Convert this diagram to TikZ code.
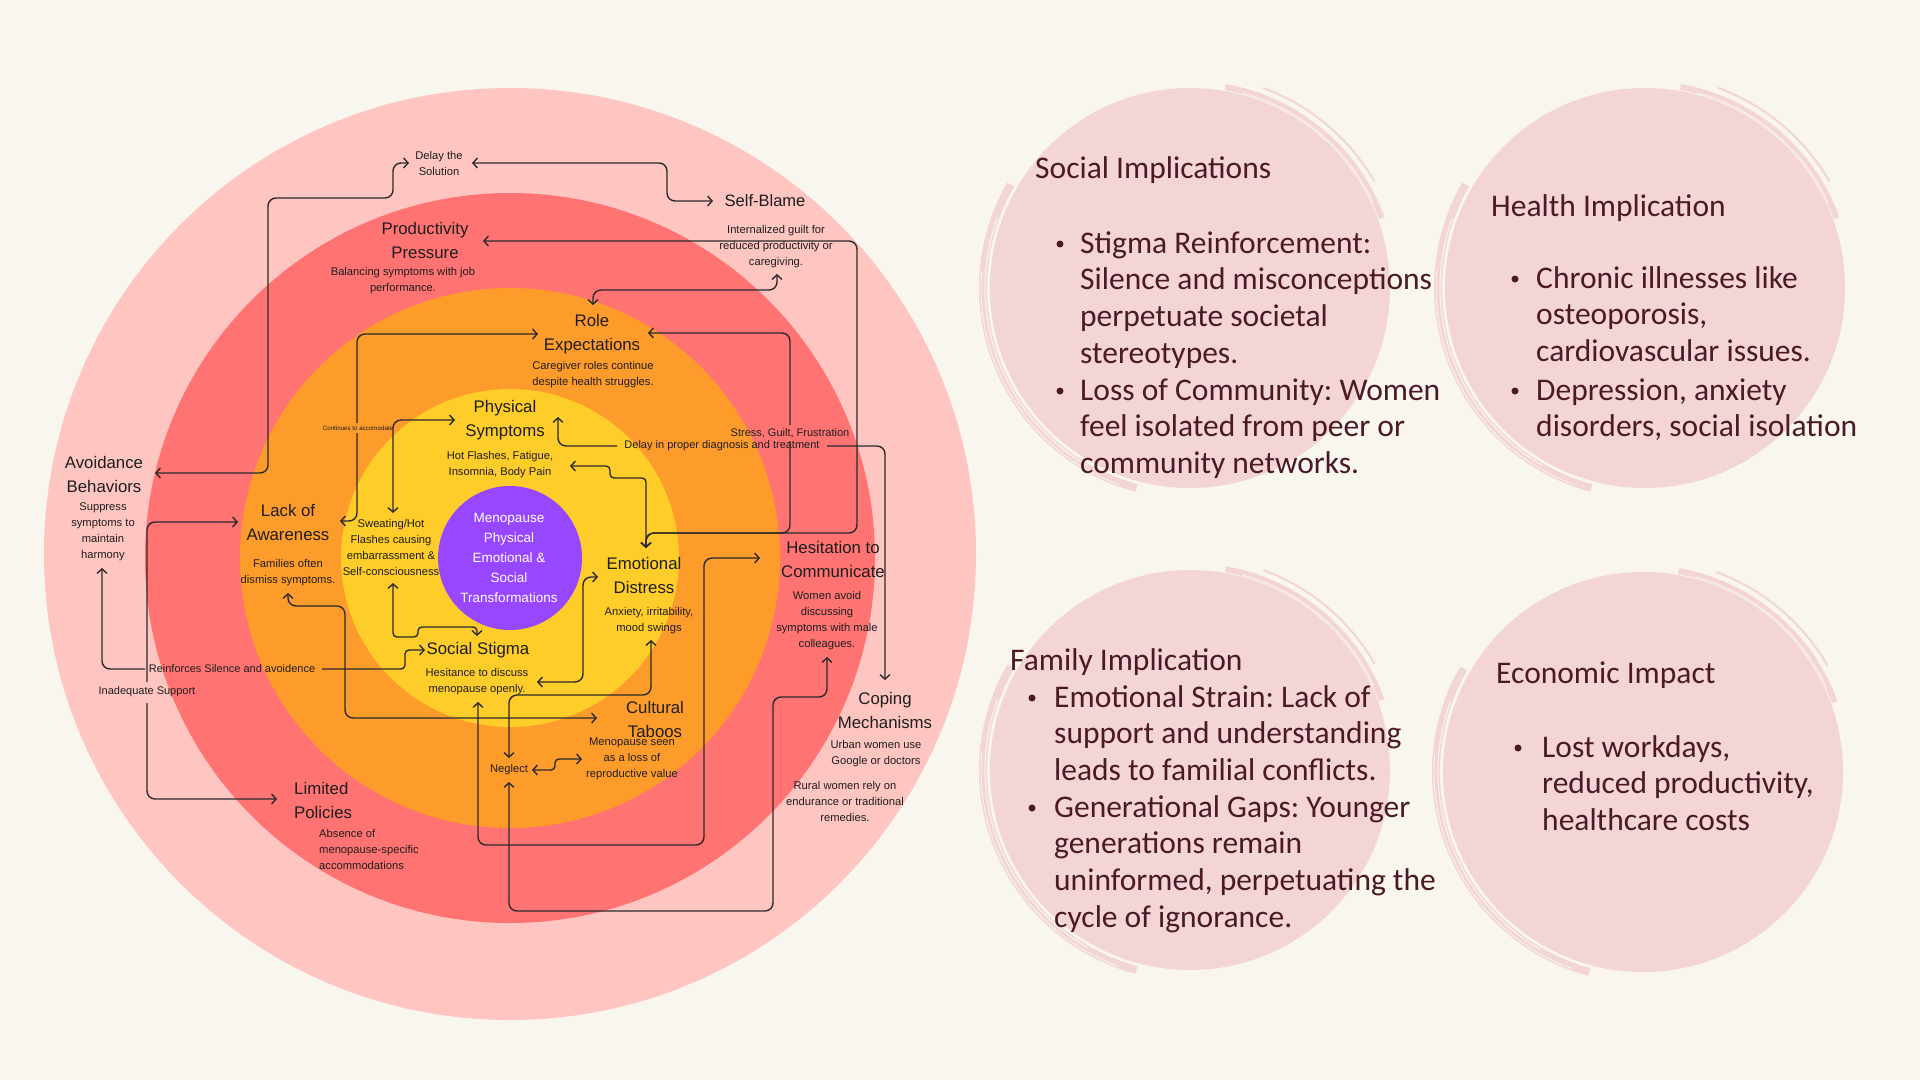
\documentclass[tikz,border=0pt]{standalone}
\usepackage{fontspec}
\setmainfont{Liberation Sans}
\newfontfamily\panelfont{Carlito}
\usetikzlibrary{arrows.meta}
\frenchspacing
\definecolor{bg}{HTML}{F9F6F0}
\definecolor{ringA}{HTML}{FFC5C1}
\definecolor{ringB}{HTML}{FF7373}
\definecolor{ringC}{HTML}{FE9C2B}
\definecolor{ringD}{HTML}{FFCD29}
\definecolor{core}{HTML}{9747FF}
\definecolor{ink}{HTML}{1E1E1E}
\definecolor{lineclr}{HTML}{2A2A2A}
\definecolor{panel}{HTML}{F3D5D7}
\definecolor{paneltext}{HTML}{4B1A25}
\newcommand{\brushdisc}[2]{%
  \fill[panel] (#1,#2) circle[radius=200pt];
  \draw[panel, line width=8pt] ([shift={(150:207pt)}]#1,#2) arc[start angle=150, end angle=255, radius=207pt];
  \draw[bg, line width=1pt] ([shift={(160:205pt)}]#1,#2) arc[start angle=160, end angle=240, radius=205pt];
  \draw[bg, line width=0.8pt] ([shift={(175:209pt)}]#1,#2) arc[start angle=175, end angle=250, radius=209pt];
  \draw[panel, line width=6pt] ([shift={(20:204pt)}]#1,#2) arc[start angle=20, end angle=80, radius=204pt];
  \draw[panel, line width=2pt] ([shift={(30:213pt)}]#1,#2) arc[start angle=30, end angle=70, radius=213pt];
  \draw[bg, line width=0.8pt] ([shift={(25:202pt)}]#1,#2) arc[start angle=25, end angle=75, radius=202pt];
}
\begin{document}
\begin{tikzpicture}[x=1pt,y=-1pt,
  ttl/.style={font=\fontsize{16.8}{24}\selectfont, text=ink, align=center, inner sep=0pt},
  sub/.style={font=\fontsize{11.2}{16}\selectfont, text=ink, align=center, inner sep=0pt},
  lbl/.style={font=\fontsize{11}{16}\selectfont, text=ink, inner sep=0pt},
  coretxt/.style={font=\fontsize{13.5}{20}\selectfont, text=white, align=center, inner sep=0pt},
  ptxt/.style={font=\panelfont\fontsize{31.5}{36.7}\selectfont, text=paneltext, inner sep=0pt, anchor=base west},
  conn/.style={draw=lineclr, line width=1.4pt, rounded corners=8pt},
  sconn/.style={draw=lineclr, line width=1.4pt, rounded corners=4pt},
  oneway/.style={-{Straight Barb[length=4.5pt,width=10pt]}},
  backway/.style={{Straight Barb[length=4.5pt,width=10pt]}-},
  twoway/.style={{Straight Barb[length=4.5pt,width=10pt]}-{Straight Barb[length=4.5pt,width=10pt]}}
]
\path[fill=bg] (0,0) rectangle (1920,1080);
\useasboundingbox (0,0) rectangle (1920,1080);

% rings
\fill[ringA] (510,554) circle[radius=466pt];
\fill[ringB] (510,558) circle[radius=365pt];
\fill[ringC] (510,558) circle[radius=270pt];
\fill[ringD] (510,558) circle[radius=169pt];
\fill[core] (510,558) circle[radius=72pt];

% panels
\brushdisc{1190}{288}
\brushdisc{1645}{288}
\brushdisc{1190}{770}
\brushdisc{1643}{772}

% diagram nodes
\node[sub] (dls) at (439,163) {Delay the\\Solution};
\node[ttl, font=\fontsize{16.5}{24}\selectfont] (sb) at (765,201) {Self-Blame};
\node[sub] (sbs) at (776,247) {Internalized guilt for\\reduced productivity or\\caregiving.};
\node[ttl] (pp) at (425,240) {Productivity\\Pressure};
\node[sub] (pps) at (403,281) {Balancing symptoms with job\\performance.};
\node[ttl] (re) at (592,334) {Role\\Expectations};
\node[sub] (res) at (593,375) {Caregiver roles continue\\despite health struggles.};
\node[ttl] (ps) at (505,420) {Physical\\Symptoms};
\node[sub] (pss) at (500,465) {Hot Flashes, Fatigue,\\Insomnia, Body Pain};
\node[coretxt] (coretext) at (509,558) {Menopause\\Physical\\Emotional \&\\Social\\Transformations};
\node[ttl] (la) at (288,522) {Lack of\\Awareness};
\node[sub] (las) at (288,573) {Families often\\dismiss symptoms.};
\node[ttl] (ab) at (104,474) {Avoidance\\Behaviors};
\node[sub] (abs) at (103,532) {Suppress\\symptoms to\\maintain\\harmony};
\node[sub] (sw) at (391,547) {Sweating/Hot\\Flashes causing\\embarrassment \&\\Self-consciousness};
\node[ttl] (ed) at (644,575) {Emotional\\Distress};
\node[sub] (eds) at (649,621) {Anxiety, irritability,\\mood swings};
\node[ttl] (hc) at (833,559) {Hesitation to\\Communicate};
\node[sub] (hcs) at (827,621) {Women avoid\\discussing\\symptoms with male\\colleagues.};
\node[ttl] (ss) at (478,650) {Social Stigma};
\node[sub] (sss) at (477,682) {Hesitance to discuss\\menopause openly.};
\node[ttl] (ct) at (655,719) {Cultural\\Taboos};
\node[sub] (cts) at (632,759) {Menopause seen\\as a loss of\\reproductive value};
\node[sub] (ng) at (509,770) {Neglect};
\node[ttl] (cm) at (885,710) {Coping\\Mechanisms};
\node[sub] (cms) at (876,754) {Urban women use\\Google or doctors};
\node[sub] (cmr) at (845,801) {Rural women rely on\\endurance or traditional\\remedies.};
\node[ttl, align=left, anchor=west] (lp) at (294,800) {Limited\\Policies};
\node[sub, align=left, anchor=west] (lps) at (319,849) {Absence of\\menopause-specific\\accommodations};

% connector labels
\node[lbl] (l1) at (790,433) {Stress, Guilt, Frustration};
\node[lbl] (l2) at (722,446) {Delay in proper diagnosis and treatment};
\node[lbl] (l3) at (232,669) {Reinforces Silence and avoidence};
\node[lbl] (l4) at (147,692) {Inadequate Support};
\node[font=\fontsize{6.2}{7}\selectfont, text=ink, inner sep=0pt] (l5) at (358,428) {Continues to accomodate};

% connector end points
\coordinate (ab-r) at (155,473);
\coordinate (dls-l) at (409,163);
\coordinate (dls-r) at (472,163);
\coordinate (sb-l) at (713,201);
\coordinate (pp-r) at (483,241);
\coordinate (ed-t) at (646,548);
\coordinate (re-r) at (648,333);
\coordinate (re-t) at (593,305);
\coordinate (sbs-b) at (777,274);
\coordinate (re-l) at (538,334);
\coordinate (la-r) at (340,521);
\coordinate (ps-l) at (455,420);
\coordinate (sw-t) at (393,513);
\coordinate (ps-r) at (570,466);
\coordinate (ps-t) at (558,417);
\coordinate (cm-t) at (885,680);
\coordinate (sw-b) at (393,583);
\coordinate (ss-t) at (477,636);
\coordinate (ab-b) at (102,568);
\coordinate (ss-l) at (425,650);
\coordinate (la-l) at (238,522);
\coordinate (lp-l) at (277,799);
\coordinate (las-b) at (288,593);
\coordinate (ct-l) at (597,718);
\coordinate (ss-r) at (537,682);
\coordinate (ed-l) at (598,577);
\coordinate (eds-b) at (651,640);
\coordinate (ng-t) at (509,758);
\coordinate (ng-r) at (532,770);
\coordinate (cts-l) at (582,759);
\coordinate (sss-b) at (478,702);
\coordinate (hc-l) at (760,558);
\coordinate (ng-b) at (509,782);
\coordinate (hcs-b) at (827,657);

% connectors
\draw[conn,twoway] (ab-r) -- (268,473) -- (268,198) -- (393,198) -- (393,163) -- (dls-l);
\draw[conn,twoway] (dls-r) -- (667,163) -- (667,201) -- (sb-l);
\draw[conn,twoway] (ed-t) -- (646,533) -- (857,533) -- (857,241) -- (pp-r);
\draw[conn,backway] (ed-t) -- (646,533) -- (790,533) -- (790,441);
\draw[conn,oneway] (790,425) -- (790,333) -- (re-r);
\draw[conn,twoway] (re-t) -- (593,290) -- (777,290) -- (sbs-b);
\draw[conn,backway] (la-r) -- (357,521) -- (357,433);
\draw[conn,oneway] (357,423) -- (357,334) -- (re-l);
\draw[conn,twoway] (ps-l) -- (393,420) -- (sw-t);
\draw[sconn,twoway] (ps-r) -- (610,466) -- (610,478) -- (646,478) -- (ed-t);
\draw[conn,backway] (ps-t) -- (558,446) -- (617,446);
\draw[conn,oneway] (827,446) -- (885,446) -- (cm-t);
\draw[sconn,twoway] (sw-b) -- (393,637) -- (418,637) -- (418,627) -- (477,627) -- (ss-t);
\draw[conn,backway] (ab-b) -- (102,669) -- (145,669);
\draw[sconn,oneway] (322,669) -- (405,669) -- (405,650) -- (ss-l);
\draw[conn,backway] (la-l) -- (147,522) -- (147,682);
\draw[conn,oneway] (147,703) -- (147,799) -- (lp-l);
\draw[conn,twoway] (las-b) -- (288,606) -- (345,606) -- (345,718) -- (ct-l);
\draw[conn,twoway] (ss-r) -- (583,682) -- (583,577) -- (ed-l);
\draw[conn,twoway] (eds-b) -- (651,695) -- (509,695) -- (ng-t);
\draw[sconn,twoway] (ng-r) -- (555,770) -- (555,759) -- (cts-l);
\draw[conn,twoway] (sss-b) -- (478,845) -- (704,845) -- (704,558) -- (hc-l);
\draw[conn,twoway] (ng-b) -- (509,911) -- (773,911) -- (773,697) -- (827,697) -- (hcs-b);

% panel texts
\node[ptxt] (p1t) at (1035,178) {Social Implications};
\fill[paneltext] (1060,244) circle[radius=3.5pt];
\node[ptxt] (p1a) at (1080,253) {\vtop{\hbox{Stigma Reinforcement:}\hbox{Silence and misconceptions}\hbox{perpetuate societal}\hbox{stereotypes.}}};
\fill[paneltext] (1060,391) circle[radius=3.5pt];
\node[ptxt] (p1b) at (1080,400) {\vtop{\hbox{Loss of Community: Women}\hbox{feel isolated from peer or}\hbox{community networks.}}};

\node[ptxt] (p2t) at (1491,216) {Health Implication};
\fill[paneltext] (1515,279) circle[radius=3.5pt];
\node[ptxt] (p2a) at (1536,288) {\vtop{\hbox{Chronic illnesses like}\hbox{osteoporosis,}\hbox{cardiovascular issues.}}};
\fill[paneltext] (1515,391) circle[radius=3.5pt];
\node[ptxt] (p2b) at (1536,400) {\vtop{\hbox{Depression, anxiety}\hbox{disorders, social isolation}}};

\node[ptxt] (p3t) at (1010,670) {Family Implication};
\fill[paneltext] (1032,698) circle[radius=3.5pt];
\node[ptxt] (p3a) at (1054,707) {\vtop{\hbox{Emotional Strain: Lack of}\hbox{support and understanding}\hbox{leads to familial conflicts.}}};
\fill[paneltext] (1032,808) circle[radius=3.5pt];
\node[ptxt] (p3b) at (1054,817) {\vtop{\hbox{Generational Gaps: Younger}\hbox{generations remain}\hbox{uninformed, perpetuating the}\hbox{cycle of ignorance.}}};

\node[ptxt] (p4t) at (1496,683) {Economic Impact};
\fill[paneltext] (1518,748) circle[radius=3.5pt];
\node[ptxt] (p4a) at (1542,757) {\vtop{\hbox{Lost workdays,}\hbox{reduced productivity,}\hbox{healthcare costs}}};
\end{tikzpicture}
\end{document}
